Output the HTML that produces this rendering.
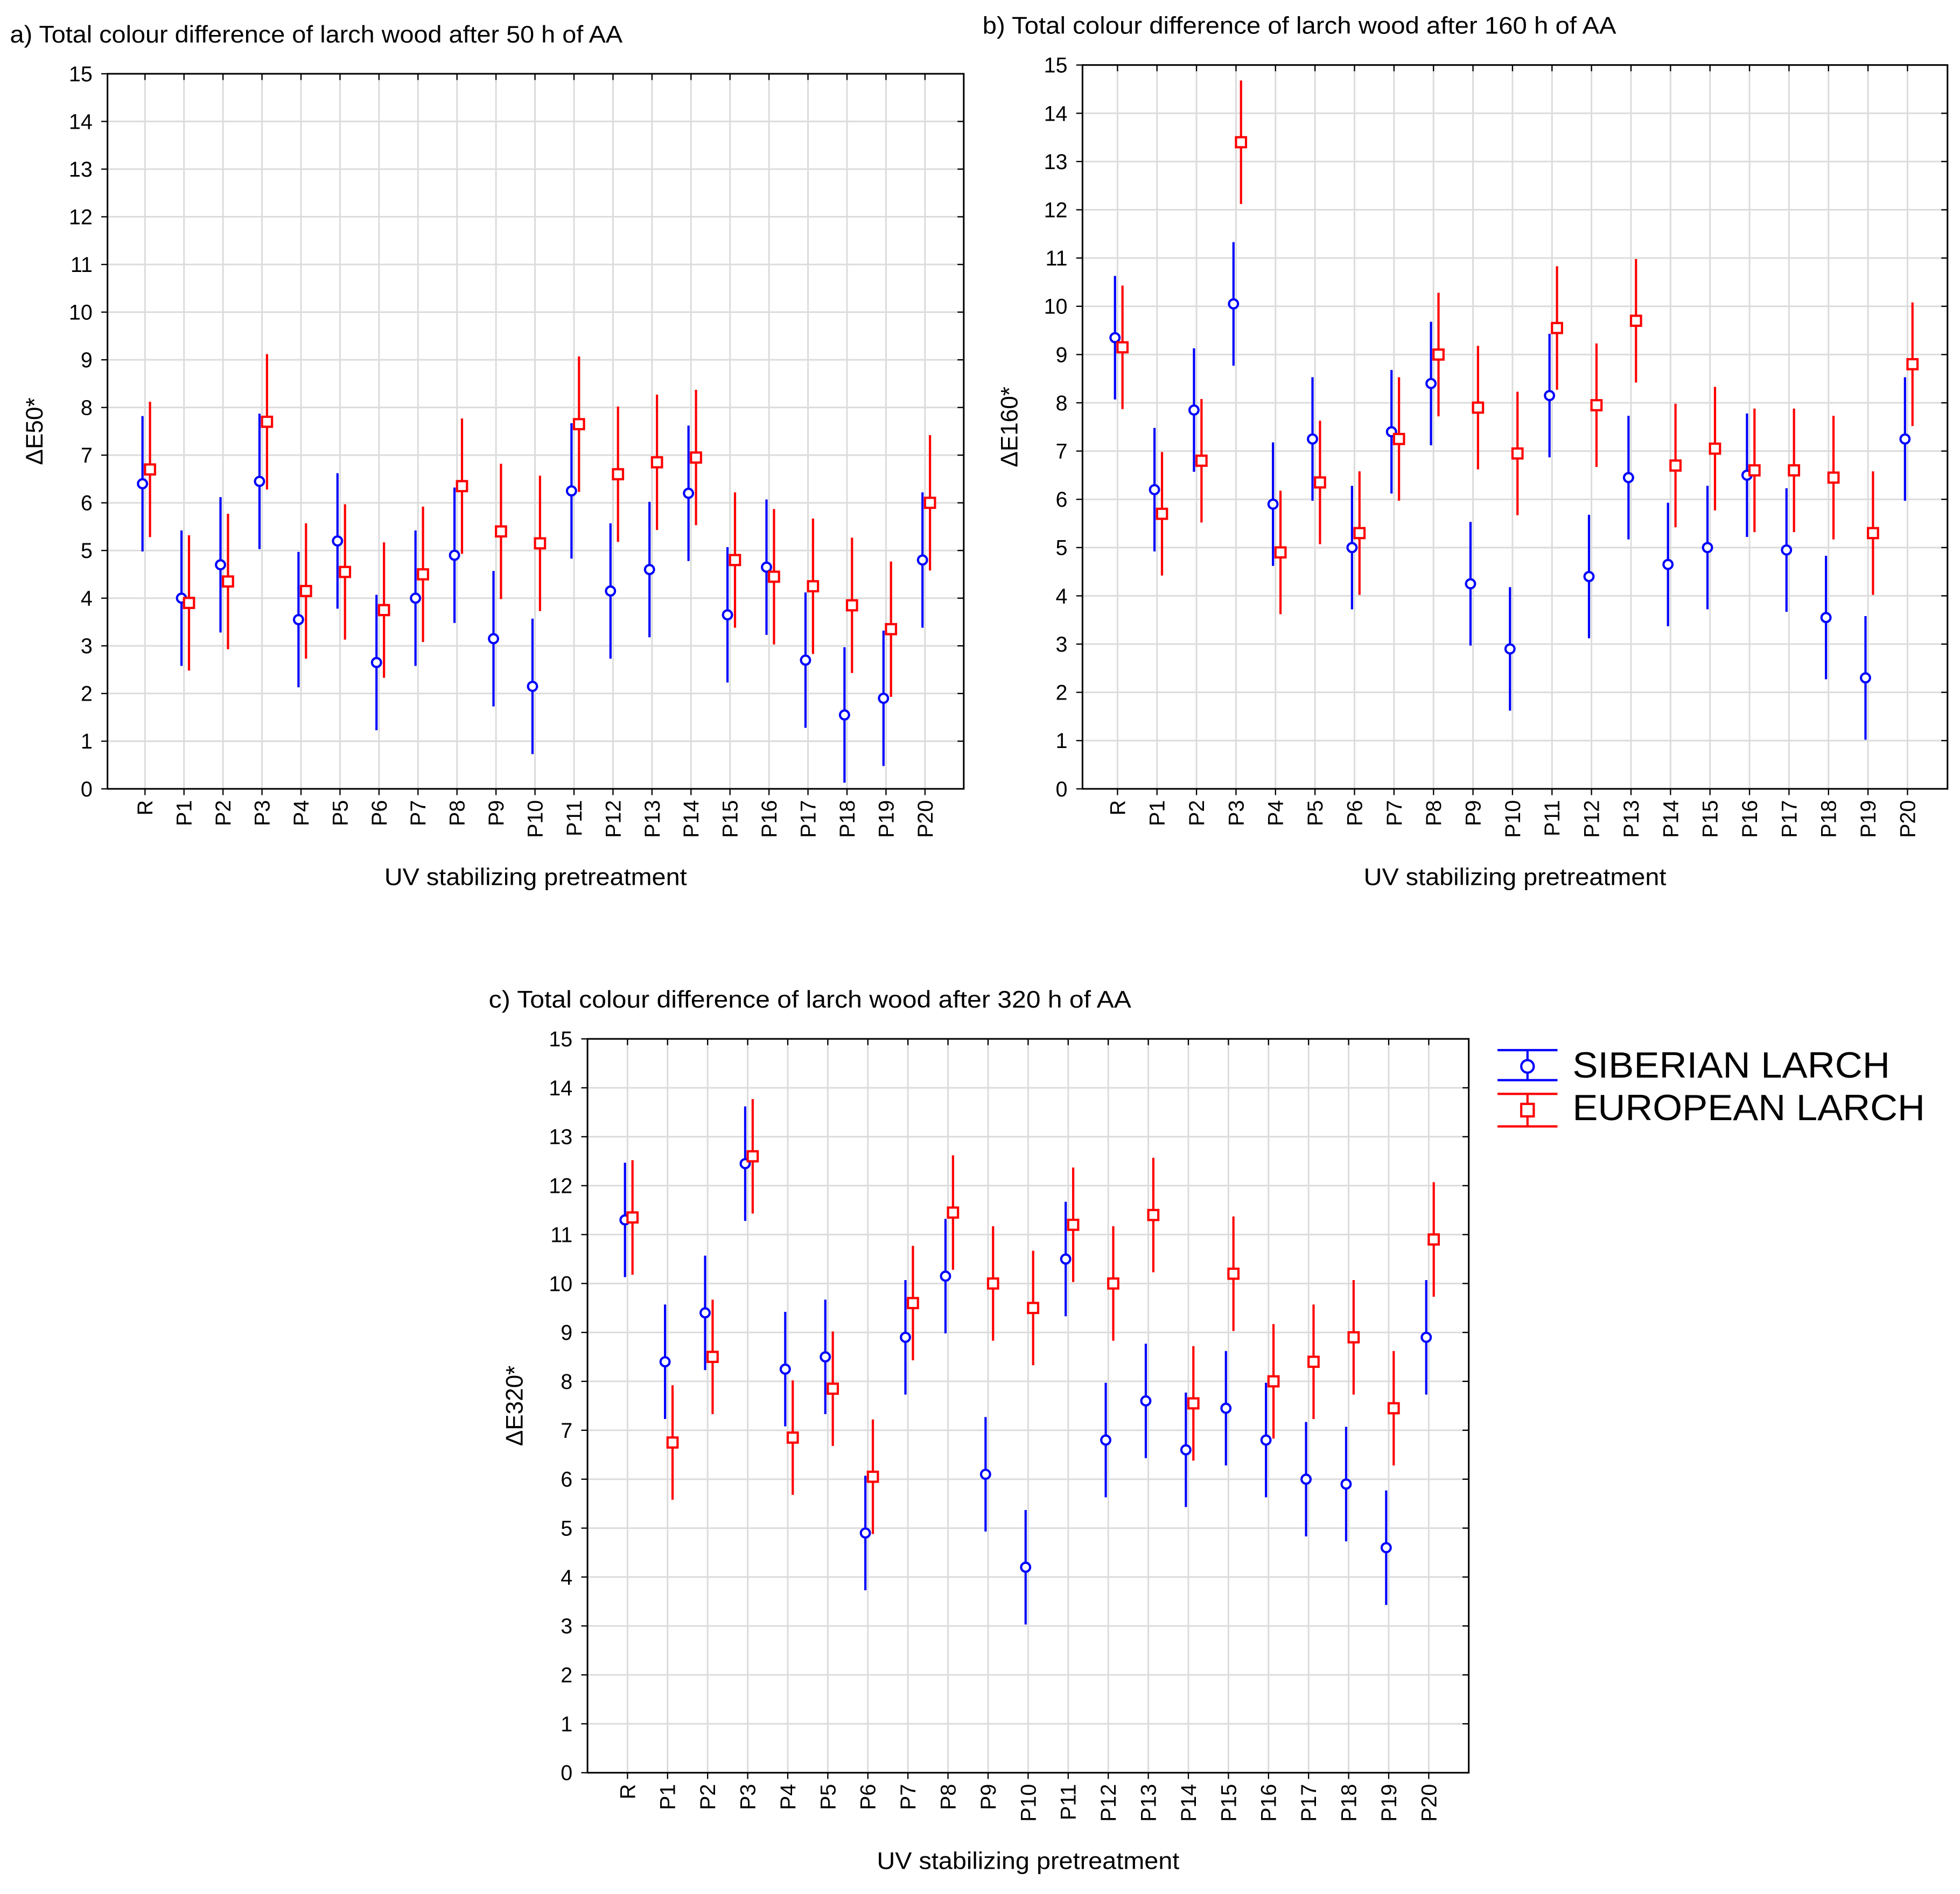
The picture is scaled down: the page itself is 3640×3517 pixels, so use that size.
<!DOCTYPE html>
<html><head><meta charset="utf-8"><style>
html,body{margin:0;padding:0;background:#fff}
svg{display:block;font-family:"Liberation Sans",Arial,sans-serif}
</style></head><body>
<svg id="fig" width="3640" height="3517" viewBox="0 0 1568 1515" xmlns="http://www.w3.org/2000/svg"></svg>
<script>
const categories=["R","P1","P2","P3","P4","P5","P6","P7","P8","P9","P10","P11","P12","P13","P14","P15","P16","P17","P18","P19","P20"];
const yTicks=[0,1,2,3,4,5,6,7,8,9,10,11,12,13,14,15];
const aSiberian=[6.4,4.0,4.7,6.45,3.55,5.2,2.65,4.0,4.9,3.15,2.15,6.25,4.15,4.6,6.2,3.65,4.65,2.7,1.55,1.9,4.8];
const aEuropean=[6.7,3.9,4.35,7.7,4.15,4.55,3.75,4.5,6.35,5.4,5.15,7.65,6.6,6.85,6.95,4.8,4.45,4.25,3.85,3.35,6.0];
const bSiberian=[9.35,6.2,7.85,10.05,5.9,7.25,5.0,7.4,8.4,4.25,2.9,8.15,4.4,6.45,4.65,5.0,6.5,4.95,3.55,2.3,7.25];
const bEuropean=[9.15,5.7,6.8,13.4,4.9,6.35,5.3,7.25,9.0,7.9,6.95,9.55,7.95,9.7,6.7,7.05,6.6,6.6,6.45,5.3,8.8];
const cSiberian=[11.3,8.4,9.4,12.45,8.25,8.5,4.9,8.9,10.15,6.1,4.2,10.5,6.8,7.6,6.6,7.45,6.8,6.0,5.9,4.6,8.9];
const cEuropean=[11.35,6.75,8.5,12.6,6.85,7.85,6.05,9.6,11.45,10.0,9.5,11.2,10.0,11.4,7.55,10.2,8.0,8.4,8.9,7.45,10.9];
const errA=[1.42], errB=[1.28], errC=[1.17];

const NS="http://www.w3.org/2000/svg";
const svg=document.getElementById('fig');
function mk(tag,attrs,parent){const e=document.createElementNS(NS,tag);for(const k in attrs)e.setAttribute(k,attrs[k]);(parent||svg).appendChild(e);return e;}

function chart(id,box,title,ylab,sib,eur,err){
  const g=mk('g',{});
  
  
  const {x0,x1,y0,y1,c0,c1}=box;
  const yS=v=>y1-(v/15)*(y1-y0);
  const xS=i=>c0+i*(c1-c0)/(categories.length-1);
  yTicks.forEach(t=>{
    const l=mk('line',{x1:x0,x2:x1,y1:yS(t),y2:yS(t),stroke:'#dcdcdc','stroke-width':1.3},g);
    
    mk('line',{x1:x0-5,x2:x0,y1:yS(t),y2:yS(t),stroke:'#000','stroke-width':1},g);
    mk('line',{x1:x1-5,x2:x1,y1:yS(t),y2:yS(t),stroke:'#000','stroke-width':1},g);
    const tx=mk('text',{x:x0-12,y:yS(t)+6,'font-size':17,'text-anchor':'end'},g);
    tx.textContent=t;
    
  });
  categories.forEach((c,i)=>{
    const l=mk('line',{x1:xS(i),x2:xS(i),y1:y0,y2:y1,stroke:'#dcdcdc','stroke-width':1.3},g);
    
    mk('line',{x1:xS(i),x2:xS(i),y1:y1,y2:y1+5,stroke:'#000','stroke-width':1},g);
    mk('line',{x1:xS(i),x2:xS(i),y1:y0,y2:y0+5,stroke:'#000','stroke-width':1},g);
    const tx=mk('text',{x:0,y:0,'font-size':17,'text-anchor':'end',transform:`translate(${xS(i)+6},${y1+9}) rotate(-90)`},g);
    tx.textContent=c;
    
  });
  const fr=mk('rect',{x:x0,y:y0,width:x1-x0,height:y1-y0,fill:'none',stroke:'#000','stroke-width':1.3},g);
  
  sib.forEach((v,i)=>{
    const x=xS(i)-2;
    const l=mk('line',{x1:x,x2:x,y1:yS(v-err[0]),y2:yS(v+err[0]),stroke:'#0000ff','stroke-width':1.8},g);
    
    const c=mk('circle',{cx:x,cy:yS(v),r:3.6,fill:'#fff',stroke:'#0000ff','stroke-width':1.8},g);
    
  });
  eur.forEach((v,i)=>{
    const x=xS(i)+4;
    const l=mk('line',{x1:x,x2:x,y1:yS(v-err[0]),y2:yS(v+err[0]),stroke:'#ff0000','stroke-width':1.8},g);
    
    const r=mk('rect',{x:x-4,y:yS(v)-4,width:8,height:8,fill:'#fff',stroke:'#ff0000','stroke-width':1.8},g);
    
  });
  const t=mk('text',{x:box.tx,y:box.ty,'font-size':19,textLength:box.tl,lengthAdjust:'spacingAndGlyphs'},g);
  t.textContent=title;
  const yl=mk('text',{x:0,y:0,'font-size':19,'text-anchor':'middle',transform:`translate(${x0-52},${(y0+y1)/2}) rotate(-90)`},g);
  yl.textContent=ylab;
  const xl=mk('text',{x:(x0+x1)/2-121,y:y1+77,'font-size':19,textLength:242,lengthAdjust:'spacingAndGlyphs'},g);
  xl.textContent='UV stabilizing pretreatment';
}
chart('chart-a',{x0:86,x1:771,y0:59,y1:631,c0:116,c1:740,tx:8,ty:34,tl:490},'a) Total colour difference of larch wood after 50 h of AA','ΔE50*',aSiberian,aEuropean,errA);
chart('chart-b',{x0:866,x1:1558,y0:52,y1:631,c0:894,c1:1526,tx:786,ty:27,tl:507},'b) Total colour difference of larch wood after 160 h of AA','ΔE160*',bSiberian,bEuropean,errB);
chart('chart-c',{x0:470,x1:1175,y0:831,y1:1418,c0:502,c1:1143,tx:391,ty:806,tl:514},'c) Total colour difference of larch wood after 320 h of AA','ΔE320*',cSiberian,cEuropean,errC);
const lg=mk('g',{});

const e1=mk('g',{},lg);
mk('line',{x1:1198,x2:1246,y1:840,y2:840,stroke:'#0000ff','stroke-width':1.8},e1);
mk('line',{x1:1198,x2:1246,y1:864,y2:864,stroke:'#0000ff','stroke-width':1.8},e1);
mk('line',{x1:1222,x2:1222,y1:840,y2:864,stroke:'#0000ff','stroke-width':1.8},e1);
mk('circle',{cx:1222,cy:853,r:5,fill:'#fff',stroke:'#0000ff','stroke-width':1.8},e1);
const t1=mk('text',{x:1258,y:862,'font-size':29,textLength:254,lengthAdjust:'spacingAndGlyphs'},e1);t1.textContent='SIBERIAN LARCH';
const e2=mk('g',{},lg);
mk('line',{x1:1198,x2:1246,y1:875,y2:875,stroke:'#ff0000','stroke-width':1.8},e2);
mk('line',{x1:1198,x2:1246,y1:901,y2:901,stroke:'#ff0000','stroke-width':1.8},e2);
mk('line',{x1:1222,x2:1222,y1:875,y2:901,stroke:'#ff0000','stroke-width':1.8},e2);
mk('rect',{x:1217,y:883,width:10,height:10,fill:'#fff',stroke:'#ff0000','stroke-width':1.8},e2);
const t2=mk('text',{x:1258,y:896,'font-size':29,textLength:282,lengthAdjust:'spacingAndGlyphs'},e2);t2.textContent='EUROPEAN LARCH';
</script>
</body></html>
